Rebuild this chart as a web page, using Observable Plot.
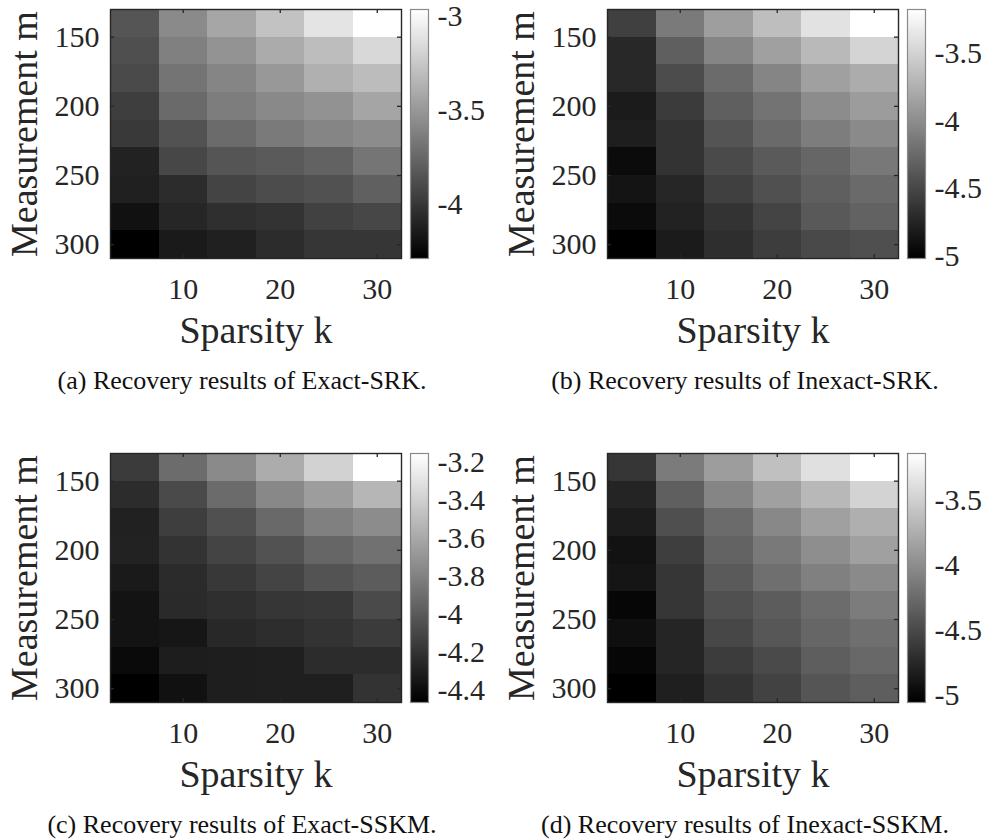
<!DOCTYPE html>
<html>
<head>
<meta charset="utf-8">
<script src="https://cdn.jsdelivr.net/npm/d3@7"></script>
<script src="https://cdn.jsdelivr.net/npm/@observablehq/plot@0.6"></script>
<style>
  html, body { margin: 0; padding: 0; background: #fff; }
  #fig { position: relative; width: 985px; height: 839px; background: #fff; overflow: hidden; }
  #fig svg { position: absolute; overflow: visible; }
  .cap { position: absolute; font-family: "Liberation Serif", "Times New Roman", "DejaVu Serif", serif; font-size: 26px; color: #111; white-space: nowrap; transform: translate(-50%, -50%); }
</style>
</head>
<body>
<div id="fig"></div>
<script>
// Sparsity k (columns) and measurement m (rows, top to bottom)
const ks = [5, 10, 15, 20, 25, 30];
const ms = [140, 160, 180, 200, 220, 240, 260, 280, 300];
const kTicks = [10, 20, 30];
const mTicks = [150, 200, 250, 300];

// log10 recovery error, rows follow ms, columns follow ks
const exactSRK = [
  [-3.867, -3.590, -3.444, -3.298, -3.121, -2.980],
  [-3.898, -3.642, -3.543, -3.418, -3.324, -3.183],
  [-3.924, -3.705, -3.616, -3.517, -3.392, -3.329],
  [-3.987, -3.757, -3.658, -3.595, -3.548, -3.449],
  [-4.013, -3.882, -3.752, -3.674, -3.616, -3.580],
  [-4.133, -3.940, -3.867, -3.841, -3.799, -3.700],
  [-4.143, -4.080, -3.955, -3.914, -3.888, -3.809],
  [-4.221, -4.112, -4.065, -4.044, -3.971, -3.940],
  [-4.310, -4.174, -4.143, -4.080, -4.028, -4.028]
];
const inexactSRK = [
  [-4.582, -4.162, -3.902, -3.670, -3.410, -3.200],
  [-4.756, -4.358, -4.083, -3.887, -3.707, -3.511],
  [-4.756, -4.495, -4.271, -4.083, -3.887, -3.801],
  [-4.850, -4.618, -4.358, -4.213, -4.032, -3.916],
  [-4.828, -4.676, -4.437, -4.278, -4.141, -4.047],
  [-4.965, -4.676, -4.510, -4.394, -4.307, -4.177],
  [-4.900, -4.770, -4.582, -4.466, -4.358, -4.278],
  [-4.965, -4.799, -4.676, -4.553, -4.401, -4.336],
  [-5.045, -4.850, -4.712, -4.604, -4.517, -4.473]
];
const exactSSKM = [
  [-4.177, -3.925, -3.771, -3.596, -3.401, -3.170],
  [-4.254, -4.100, -3.930, -3.781, -3.673, -3.545],
  [-4.310, -4.162, -4.069, -3.941, -3.822, -3.761],
  [-4.305, -4.218, -4.131, -4.059, -3.956, -3.900],
  [-4.346, -4.259, -4.192, -4.131, -4.054, -4.007],
  [-4.382, -4.264, -4.239, -4.203, -4.192, -4.100],
  [-4.382, -4.367, -4.275, -4.249, -4.218, -4.177],
  [-4.429, -4.331, -4.326, -4.321, -4.254, -4.254],
  [-4.480, -4.393, -4.326, -4.321, -4.321, -4.218]
];
const inexactSSKM = [
  [-4.676, -4.159, -3.904, -3.642, -3.402, -3.170],
  [-4.810, -4.368, -4.084, -3.882, -3.702, -3.500],
  [-4.870, -4.488, -4.279, -4.061, -3.882, -3.769],
  [-4.945, -4.616, -4.338, -4.174, -4.016, -3.882],
  [-4.923, -4.676, -4.406, -4.249, -4.121, -4.046],
  [-5.035, -4.676, -4.481, -4.391, -4.271, -4.151],
  [-4.968, -4.803, -4.548, -4.428, -4.316, -4.249],
  [-5.035, -4.803, -4.631, -4.526, -4.376, -4.301],
  [-5.080, -4.848, -4.698, -4.586, -4.443, -4.376]
];

const barTicksA = [-3, -3.5, -4];
const barTicksB = [-3.5, -4, -4.5, -5];
const barTicksC = [-3.2, -3.4, -3.6, -3.8, -4, -4.2, -4.4];
const barTicksD = [-3.5, -4, -4.5, -5];

const captions = [
  "(a) Recovery results of Exact-SRK.",
  "(b) Recovery results of Inexact-SRK.",
  "(c) Recovery results of Exact-SSKM.",
  "(d) Recovery results of Inexact-SSKM."
];

const fig = document.getElementById("fig");
const FONT = "'Liberation Serif', 'Times New Roman', 'DejaVu Serif', serif";
const INK = "#262626";
const gray = t => { const g = Math.round(255 * Math.max(0, Math.min(1, t))); return `rgb(${g},${g},${g})`; };

function panel(values, barTicks, left, top, caption, capX) {
  const cells = [];
  ms.forEach((m, i) => ks.forEach((k, j) => cells.push({k, m, v: values[i][j]})));
  const [vmin, vmax] = d3.extent(cells, d => d.v);
  const dk = ks[1] - ks[0], dm = ms[1] - ms[0];
  const color = {type: "linear", domain: [vmin, vmax], interpolate: gray};
  const mT = 9, mB = 104, H = 362;
  const fw = 291, fh = H - mT - mB;

  const heat = Plot.plot({
    width: 110 + fw + 5, height: H,
    marginLeft: 110, marginRight: 5, marginTop: mT, marginBottom: mB,
    x: {domain: [ks[0] - dk / 2, ks[ks.length - 1] + dk / 2]},
    y: {domain: [ms[0] - dm / 2, ms[ms.length - 1] + dm / 2], reverse: true},
    color,
    style: {fontFamily: FONT, color: INK, background: "transparent"},
    marks: [
      Plot.rect(cells, {x1: d => d.k - dk / 2, x2: d => d.k + dk / 2, y1: d => d.m - dm / 2, y2: d => d.m + dm / 2, fill: "v", shapeRendering: "crispEdges"}),
      Plot.tickX(kTicks, {x: d => d, insetTop: fh - 4, stroke: INK, strokeWidth: 1.3}),
      Plot.tickX(kTicks, {x: d => d, insetBottom: fh - 4, stroke: INK, strokeWidth: 1.3}),
      Plot.tickY(mTicks, {y: d => d, insetRight: fw - 4, stroke: INK, strokeWidth: 1.3}),
      Plot.tickY(mTicks, {y: d => d, insetLeft: fw - 4, stroke: INK, strokeWidth: 1.3}),
      Plot.frame({stroke: INK, strokeWidth: 1.4}),
      Plot.axisX({ticks: kTicks, tickSize: 0, tickPadding: 19, fontSize: 30, label: null, tickFormat: d => String(d)}),
      Plot.axisY({ticks: mTicks, tickSize: 0, tickPadding: 11, fontSize: 30, label: null, tickFormat: d => String(d)}),
      Plot.text(["Sparsity k"], {frameAnchor: "bottom", dy: 72, text: d => d, fontSize: 38, textAnchor: "middle", lineAnchor: "middle", fill: INK}),
      Plot.text(["Measurement m"], {frameAnchor: "left", dx: -86, text: d => d, rotate: -90, fontSize: 38, textAnchor: "middle", lineAnchor: "middle", fill: INK})
    ]
  });
  heat.style.left = left + "px";
  heat.style.top = top + "px";
  fig.appendChild(heat);

  const bar = Plot.plot({
    width: 90, height: H,
    marginLeft: 10, marginRight: 62, marginTop: mT, marginBottom: mB,
    x: {domain: [0, 1], axis: null},
    y: {domain: [vmin, vmax]},
    color,
    style: {fontFamily: FONT, color: INK, background: "transparent"},
    marks: [
      Plot.raster({fill: (x, y) => y, x1: 0, x2: 1, y1: vmin, y2: vmax, width: 1, height: 256}),
      Plot.frame({stroke: "#8a8a8a", strokeWidth: 1.2}),
      Plot.axisY({anchor: "right", ticks: barTicks, tickSize: 0, tickPadding: 9, dy: 3.5, fontSize: 30, label: null, tickFormat: d => String(d)})
    ]
  });
  bar.style.left = (left + 400) + "px";
  bar.style.top = top + "px";
  fig.appendChild(bar);

  const cap = document.createElement("div");
  cap.className = "cap";
  cap.textContent = caption;
  cap.style.left = capX + "px";
  cap.style.top = (top + 381) + "px";
  fig.appendChild(cap);
}

panel(exactSRK, barTicksA, 0, 0, captions[0], 242);
panel(inexactSRK, barTicksB, 497, 0, captions[1], 745);
panel(exactSSKM, barTicksC, 0, 444, captions[2], 242);
panel(inexactSSKM, barTicksD, 497, 444, captions[3], 745);
</script>
</body>
</html>
